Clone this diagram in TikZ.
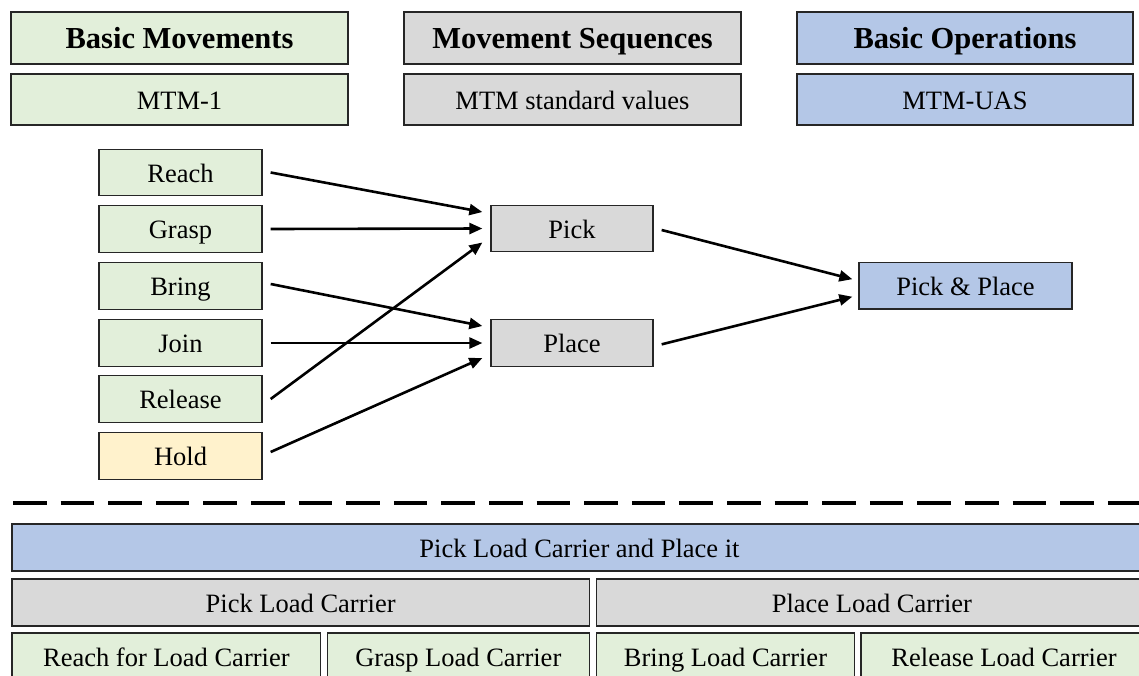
\documentclass[tikz,border=0pt]{standalone}
\usepackage{fontspec}
\setmainfont{Liberation Serif}
\usetikzlibrary{arrows.meta,calc}

\definecolor{mvgreen}{HTML}{E2EFDA}
\definecolor{seqgray}{HTML}{D9D9D9}
\definecolor{opblue}{HTML}{B4C7E7}
\definecolor{holdyellow}{HTML}{FFF2CC}
\definecolor{edge}{HTML}{262626}

\tikzset{
  box/.style={draw=edge, line width=1.3pt, rectangle, inner sep=0pt,
    text height=21.5pt, text depth=2.5pt,
    font=\fontsize{26.5}{30}\selectfont},
  headbox/.style={box, text height=23pt, text depth=2.4pt,
    font=\fontsize{30.5}{34}\selectfont\bfseries},
  gbox/.style={box, fill=mvgreen},
  sbox/.style={box, fill=seqgray},
  obox/.style={box, fill=opblue},
  ybox/.style={box, fill=holdyellow},
  flow/.style={line width=2.6pt, -{Triangle[length=13pt,width=11pt]}},
  sep/.style={line width=4.5pt, dash pattern=on 33.5pt off 14.1pt}
}

\begin{document}
\begin{tikzpicture}[x=1pt,y=-1pt]
\useasboundingbox (0,0) rectangle (1139,675);
\clip (0,0) rectangle (1139,675);

% level headers and methods
\node[headbox, fill=mvgreen, minimum width=337, minimum height=52] (hmov) at (179.5,38) {Basic Movements};
\node[gbox, minimum width=337, minimum height=51] (mtm1) at (179.5,99.5) {MTM-1};
\node[headbox, fill=seqgray, minimum width=337, minimum height=52] (hseq) at (572.5,38) {Movement Sequences};
\node[sbox, minimum width=337, minimum height=51] (mtmsv) at (572.5,99.5) {MTM standard values};
\node[headbox, fill=opblue, minimum width=336, minimum height=52] (hop) at (965,38) {Basic Operations};
\node[obox, minimum width=336, minimum height=51] (mtmuas) at (965,99.5) {MTM-UAS};

% basic movements
\foreach \nm/\txt/\cy/\st in {reach/Reach/172.5/gbox, grasp/Grasp/229/gbox, bring/Bring/286/gbox,
    join/Join/343/gbox, release/Release/399/gbox, hold/Hold/456/ybox}
  \node[\st, minimum width=163, minimum height=46.5] (\nm) at (180.5,\cy) {\txt};

% movement sequences
\node[sbox, minimum width=162, minimum height=46.5] (pick) at (572,228.5) {Pick};
\node[sbox, minimum width=162, minimum height=46.5] (place) at (572,343) {Place};

% basic operation
\node[obox, minimum width=213, minimum height=46.5] (pp) at (965.5,285.7) {Pick \& Place};

% movements -> sequences
\draw[flow] ($(reach.east)+(8,0)$) -- ($(pick.west)+(-8,-16.5)$);
\draw[flow] ($(grasp.east)+(8,0)$) -- ($(pick.west)+(-8,0)$);
\draw[flow] ($(release.east)+(8,0)$) -- ($(pick.west)+(-8,14)$);
\draw[flow] ($(bring.east)+(8,-2)$) -- ($(place.west)+(-8,-17)$);
\draw[flow] ($(join.east)+(8,0)$) -- ($(place.west)+(-8,0)$);
\draw[flow] ($(hold.east)+(8,-4)$) -- ($(place.west)+(-8,15)$);

% sequences -> operation
\draw[flow] ($(pick.east)+(8,1.5)$) -- ($(pp.west)+(-6,-6.5)$);
\draw[flow] ($(place.east)+(8,1.3)$) -- ($(pp.west)+(-6,11)$);

% separator
\coordinate (sepl) at (13,503);
\coordinate (sepr) at (1160,503);
\draw[sep] (sepl) -- (sepr);

% example breakdown
\node[obox, minimum width=1135, minimum height=47] (op) at (579.5,547.5) {Pick Load Carrier and Place it};
\node[sbox, minimum width=577.3, minimum height=47] (seq1) at (300.65,602.5) {Pick Load Carrier};
\node[sbox, minimum width=550.3, minimum height=47] (seq2) at (871.85,602.5) {Place Load Carrier};
\node[gbox, minimum width=308.7, minimum height=47] (m1) at (166.35,656.5) {Reach for Load Carrier};
\node[gbox, minimum width=262, minimum height=47] (m2) at (458.3,656.5) {Grasp Load Carrier};
\node[gbox, minimum width=257.6, minimum height=47] (m3) at (725.5,656.5) {Bring Load Carrier};
\node[gbox, minimum width=286, minimum height=47] (m4) at (1004,656.5) {Release Load Carrier};
\end{tikzpicture}
\end{document}
